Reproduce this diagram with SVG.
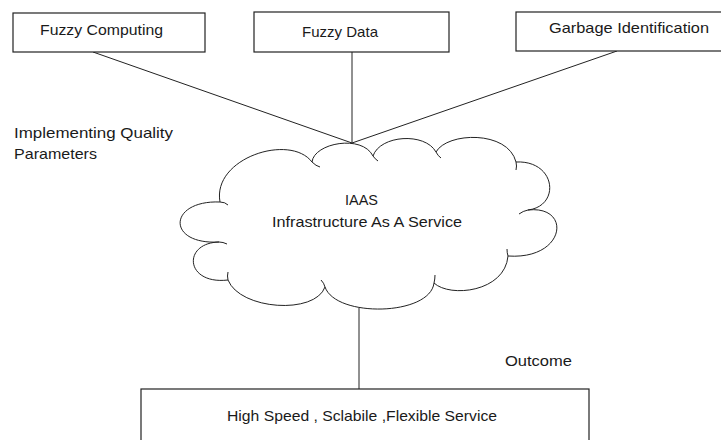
<svg xmlns="http://www.w3.org/2000/svg" width="721" height="440" viewBox="0 0 721 440">
<style>
.box{fill:#fff;stroke:#222;stroke-width:1.2}
.ln{fill:none;stroke:#222;stroke-width:1}
.cl{fill:#fff;stroke:#222;stroke-width:1}
.t{font-family:"Liberation Sans",Arial,sans-serif;font-size:15px;fill:#1a1a1a}
</style>
<rect width="721" height="440" fill="#fff"/>
<g id="connectors">
<line class="ln" x1="93" y1="52" x2="352" y2="143"/>
<line class="ln" x1="352" y1="52" x2="352" y2="143"/>
<line class="ln" x1="617" y1="51" x2="352" y2="143"/>
<line class="ln" x1="359" y1="305" x2="359" y2="389"/>
</g>
<g id="fuzzy-computing">
<rect class="box" x="13" y="13" width="192" height="39"/>
<text class="t" x="40" y="35" textLength="123" lengthAdjust="spacingAndGlyphs">Fuzzy Computing</text>
</g>
<g id="fuzzy-data">
<rect class="box" x="254" y="12" width="195" height="40"/>
<text class="t" x="302" y="37" textLength="76" lengthAdjust="spacingAndGlyphs">Fuzzy Data</text>
</g>
<g id="garbage-identification">
<rect class="box" x="516" y="12" width="210" height="39"/>
<text class="t" x="549" y="33" textLength="160" lengthAdjust="spacingAndGlyphs">Garbage Identification</text>
</g>
<g id="quality-label">
<text class="t" x="14" y="138" textLength="159" lengthAdjust="spacingAndGlyphs">Implementing Quality</text>
<text class="t" x="14" y="159" textLength="83" lengthAdjust="spacingAndGlyphs">Parameters</text>
</g>
<g id="iaas-cloud">
<path class="cl" d="M219 242 C166 245 168 200 220 202 C212 158 290 133 312 162 C314 143 362 134 373 156 C380 135 425 132 436 152 C447 132 508 130 516 162 C556 160 561 206 528 210 C572 205 566 260 508 256 C505 292 450 298 434 283 C430 316 336 318 325 287 C315 315 240 310 228 280 C185 285 182 243 219 242 Z"/>
<path class="ln" d="M219 242 q4 0 8 2 M220 202 q5 0 8 3 M312 162 q4 4 8 5 M373 156 q2 3 5 5 M436 152 q2 4 5 6 M516 162 q1 4 0 8 M528 210 q-5 1 -9 4 M508 256 q-1 -3 -1 -7 M434 283 q1 -4 1 -8 M325 287 q-1 -4 -4 -7 M228 280 q-1 -4 0 -8"/>
<text class="t" x="345" y="205" textLength="33" lengthAdjust="spacingAndGlyphs">IAAS</text>
<text class="t" x="272" y="227" textLength="190" lengthAdjust="spacingAndGlyphs">Infrastructure As A Service</text>
</g>
<g id="outcome-label">
<text class="t" x="505" y="366" textLength="67" lengthAdjust="spacingAndGlyphs">Outcome</text>
</g>
<g id="service-box">
<rect class="box" x="141" y="389" width="448" height="60"/>
<text class="t" x="227" y="421" textLength="270" lengthAdjust="spacingAndGlyphs">High Speed , Sclabile ,Flexible Service</text>
</g>
</svg>
